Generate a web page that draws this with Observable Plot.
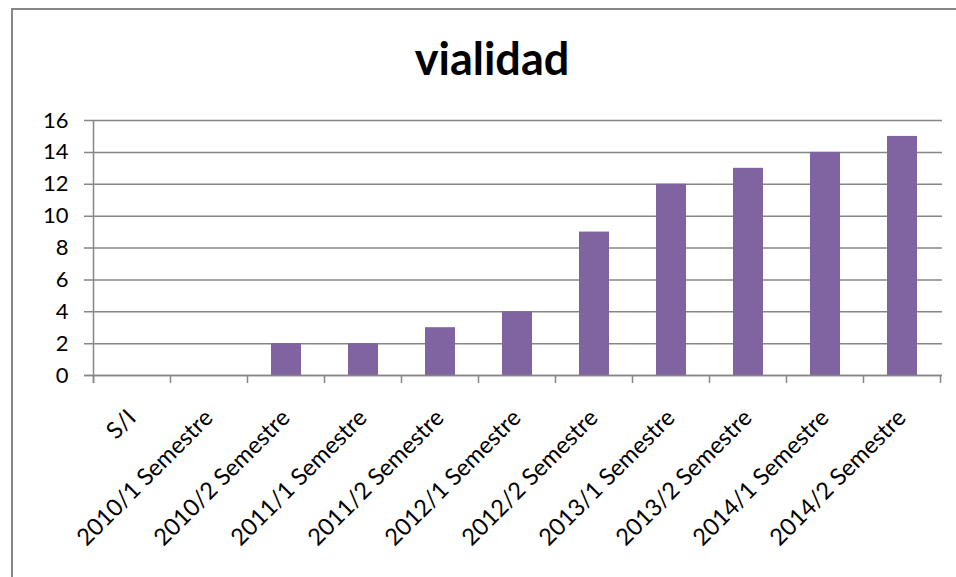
<!DOCTYPE html>
<html>
<head>
<meta charset="utf-8">
<script src="https://cdn.jsdelivr.net/npm/d3@7"></script>
<script src="https://cdn.jsdelivr.net/npm/@observablehq/plot@0.6"></script>
<style>
  html, body { margin: 0; padding: 0; background: #fff; overflow: hidden; }
  #wrap { position: relative; width: 956px; height: 577px; overflow: hidden; font-family: Lato, "Open Sans", sans-serif; }
  #frame { position: absolute; left: 11px; top: 8px; width: 980px; height: 620px; border: 2px solid #878787; box-sizing: border-box; }
  #title { position: absolute; left: 0; width: 984px; top: 31px; text-align: center; font-weight: bold; font-size: 45px; color: #000; line-height: 54px; }
  #chart { position: absolute; left: 0; top: 0; }
</style>
</head>
<body>
<div id="wrap">
  <div id="frame"></div>
  <div id="title">vialidad</div>
  <div id="chart"></div>
</div>
<script>
const categories = ["S/I", "2010/1 Semestre", "2010/2 Semestre", "2011/1 Semestre", "2011/2 Semestre", "2012/1 Semestre", "2012/2 Semestre", "2013/1 Semestre", "2013/2 Semestre", "2014/1 Semestre", "2014/2 Semestre"];
const values = [0, 0, 2, 2, 3, 4, 9, 12, 13, 14, 15];
const yTicks = [0, 2, 4, 6, 8, 10, 12, 14, 16];

const data = categories.map((c, i) => ({category: c, value: values[i]}));
const gridColor = "#868686";

// category boundary ticks along the x axis, plus the vertical axis line
const boundaryTicks = (index, scales, channels, dims) => {
  const x = scales.x;
  const step = x.step();
  const g = d3.create("svg:g");
  const y0 = dims.height - dims.marginBottom;
  const xs = categories.map(c => x(c) + x.bandwidth() / 2 - step / 2);
  xs.push(x(categories[categories.length - 1]) + x.bandwidth() / 2 + step / 2);
  for (const xv of xs) {
    g.append("line").attr("x1", xv).attr("x2", xv).attr("y1", y0).attr("y2", y0 + 8)
      .attr("stroke", gridColor).attr("stroke-width", 1.5);
  }
  g.append("line").attr("x1", xs[0]).attr("x2", xs[0]).attr("y1", dims.marginTop).attr("y2", y0 + 8)
    .attr("stroke", gridColor).attr("stroke-width", 1.5);
  return g.node();
};

const chart = Plot.plot({
  width: 956,
  height: 577,
  marginLeft: 92,
  marginRight: 14,
  marginTop: 120,
  marginBottom: 202,
  style: {fontFamily: "Lato, 'Open Sans', sans-serif", fontSize: "22px", color: "#000", background: "transparent", overflow: "visible"},
  x: {domain: categories, paddingInner: 0.61, paddingOuter: 0.305, axis: null},
  y: {domain: [0, 16], axis: null},
  marks: [
    Plot.ruleY(yTicks, {y: d => d, stroke: gridColor, strokeWidth: 1.5, strokeOpacity: 1, insetLeft: -8}),
    Plot.barY(data, {x: "category", y: "value", fill: "#8064A2"}),
    Plot.ruleY([0], {stroke: gridColor, strokeWidth: 1.5, insetLeft: -8}),
    boundaryTicks,
    Plot.text(yTicks, {y: d => d, text: d => String(d), frameAnchor: "left", textAnchor: "end", dx: -24, fill: "#000", fontSize: 22}),
    Plot.text(categories, {x: d => d, text: d => d, frameAnchor: "bottom", textAnchor: "end", lineAnchor: "top", rotate: -45, dx: -7, dy: 32, fill: "#000", fontSize: 23.5})
  ]
});
document.getElementById("chart").appendChild(chart);
</script>
</body>
</html>
